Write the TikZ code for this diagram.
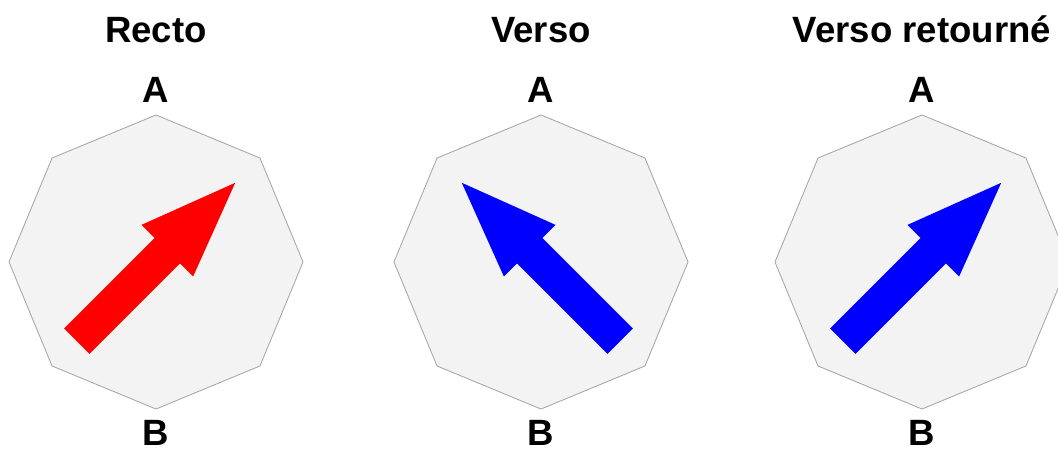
\documentclass[tikz,border=0pt]{standalone}
\usepackage{fontspec}
\setmainfont{Liberation Sans}
\usetikzlibrary{shapes.geometric,calc}
\definecolor{octofond}{RGB}{243,243,243}
\definecolor{octobord}{RGB}{165,165,165}

\begin{document}
\begin{tikzpicture}[x=0.025cm,y=0.025cm,
    octo/.style={draw=octobord,fill=octofond,regular polygon,regular polygon sides=8,
                 shape border rotate=22.5,minimum size=7.35cm,inner sep=0pt,
                 line width=0.6pt},
    titre/.style={font=\fontsize{26}{30}\selectfont\bfseries,inner sep=0pt,anchor=base},
    lettre/.style={titre},
    fleche/.pic={\fill (-112,-18) -- (16,-18) -- (16,-36.5) -- (112,0)
                       -- (16,36.5) -- (16,18) -- (-112,18) -- cycle;}
  ]
    \clip (0,0) rectangle (1058,449);

    \node[octo] (recto) at (156,187) {};
    \node[octo] (verso) at (541,187) {};
    \node[octo] (retour) at (922,187) {};

    \node[titre] (trecto) at ($(recto.center)+(0,219)$) {Recto};
    \node[titre] (tverso) at ($(verso.center)+(0,219)$) {Verso};
    \node[titre] (tretour) at ($(retour.center)+(0,219)$) {Verso retourné};

    \node[lettre] (arecto) at ($(recto.center)+(0,160)$) {A};
    \node[lettre] (averso) at ($(verso.center)+(0,160)$) {A};
    \node[lettre] (aretour) at ($(retour.center)+(0,160)$) {A};
    \node[lettre] (brecto) at ($(recto.center)+(0,-183)$) {B};
    \node[lettre] (bverso) at ($(verso.center)+(0,-183)$) {B};
    \node[lettre] (bretour) at ($(retour.center)+(0,-183)$) {B};

    \pic[red,rotate=45] at (recto.center) {fleche};
    \pic[blue,rotate=135] at (verso.center) {fleche};
    \pic[blue,rotate=45] at (retour.center) {fleche};
\end{tikzpicture}
\end{document}
